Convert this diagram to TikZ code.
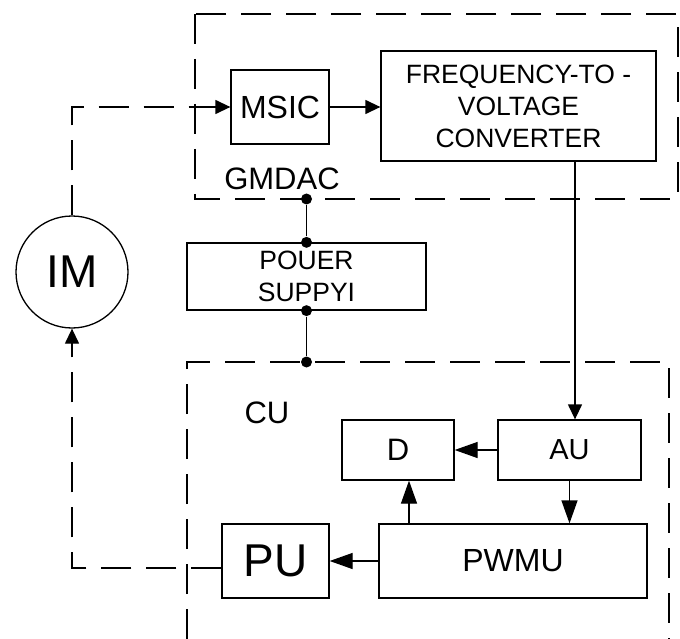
\documentclass[tikz,border=0pt]{standalone}
\usepackage{fontspec}
\setmainfont{Liberation Sans}
\usetikzlibrary{arrows.meta}

\begin{document}
\begin{tikzpicture}[
  x=1pt, y=-1pt,
  line width=1.3pt,
  block/.style={draw, inner sep=0pt, align=center, minimum width=#1},
  grp/.style={dash pattern=on 30pt off 15pt},
  sig/.style={-{Triangle[length=15pt,width=14pt]}},
  ctl/.style={-{Triangle[length=23pt,width=16pt]}},
  tap/.style={circle, fill, inner sep=0pt, minimum size=11pt},
  fs/.style={font=\fontsize{#1}{32}\selectfont}
]
\useasboundingbox (0,0) rectangle (680,639);
% group frames
\draw[grp] (195,14) rectangle (678,199);
\draw[grp] (187,639) -- (187,362) -- (669,362) -- (669,639);
% blocks
\node[draw, circle, minimum size=112pt, inner sep=0pt, fs=46] (im) at (72,272) {IM};
\node[block=98pt, minimum height=74pt, fs=32] (msic) at (280,107) {MSIC};
\node[block=275pt, minimum height=110pt, fs=26.5] (fvc) at (518.5,106) {FREQUENCY-TO -\\VOLTAGE\\CONVERTER};
\node[block=239pt, minimum height=67pt, fs=26.5] (psu) at (306.5,276.5) {POUER\\SUPPYI};
\node[block=112pt, minimum height=60pt, fs=31] (d) at (398,450) {D};
\node[block=143pt, minimum height=60pt, fs=29] (au) at (569.5,450) {AU};
\node[block=268pt, minimum height=74pt, fs=32] (pwmu) at (513,561) {PWMU};
\node[block=107pt, minimum height=74pt, fs=46] (pu) at (275.5,561) {PU};
% frame labels
\node[fs=31, anchor=base] (gmdac) at (282,190) {GMDAC};
\node[fs=31, anchor=base] (cu) at (267,423) {CU};
% supply taps
\node[tap] (tg) at (psu.north |- 0,199) {};
\node[tap] (tp1) at (psu.north) {};
\node[tap] (tp2) at (psu.south) {};
\node[tap] (tc) at (psu.south |- 0,362) {};
\draw (tg) -- (tp1);
\draw (tp2) -- (tc);
% signal path
\draw[grp, sig] (im.north) |- (msic.west);
\draw[sig] (msic.east) -- (msic.east -| fvc.west);
\draw[sig] ([xshift=5.5pt]au.north |- fvc.south) -- ([xshift=5.5pt]au.north);
\draw[ctl] (au.west) -- (d.east);
\draw[ctl] (au.south) -- (au.south |- pwmu.north);
\draw[ctl] ([xshift=11pt]d.south |- pwmu.north) -- ([xshift=11pt]d.south);
\draw[ctl] (pwmu.west) -- (pu.east);
\draw[grp, sig] ([yshift=-7pt]pu.west) -| (im.south);
\end{tikzpicture}
\end{document}
